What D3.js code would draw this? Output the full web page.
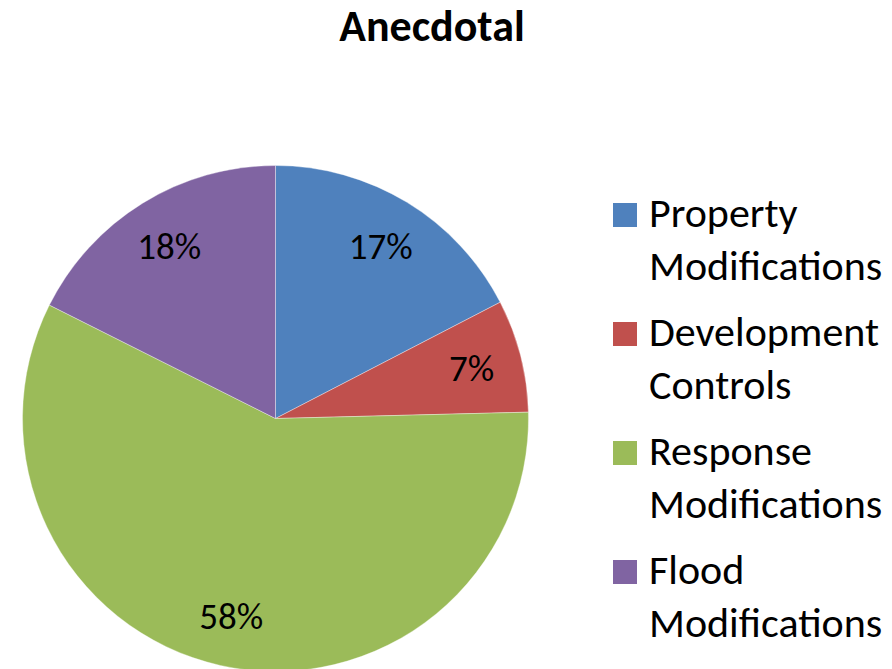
<!DOCTYPE html>
<html>
<head>
<meta charset="utf-8">
<script src="https://cdn.jsdelivr.net/npm/d3@7"></script>
<style>
  html, body { margin: 0; padding: 0; background: #fff; }
  svg { display: block; }
</style>
</head>
<body>
<div id="chart"></div>
<script>
(function () {
  'use strict';

  // Anecdotal share of flood mitigation measures (percent)
  const CATEGORIES = ['Property Modifications', 'Development Controls', 'Response Modifications', 'Flood Modifications'];
  const LEGEND_LINES = [['Property', 'Modifications'], ['Development', 'Controls'], ['Response', 'Modifications'], ['Flood', 'Modifications']];
  const VALUES = [17.4, 7.2, 57.8, 17.6];
  const LABELS = ['17%', '7%', '58%', '18%'];
  const COLORS = ['#4F81BD', '#C0504D', '#9BBB59', '#8064A2'];

  const FONT = 'Carlito, Calibri, Lato, sans-serif';
  const width = 892, height = 669;

  const svg = d3.select('#chart').append('svg')
    .attr('width', width).attr('height', height)
    .attr('viewBox', `0 0 ${width} ${height}`);

  // Title
  svg.append('text')
    .attr('x', 432).attr('y', 41)
    .attr('text-anchor', 'middle')
    .attr('font-family', FONT).attr('font-weight', 700).attr('font-size', 44)
    .attr('fill', '#000')
    .text('Anecdotal');

  // Pie
  const cx = 275.5, cy = 418.5, radius = 253;
  const data = CATEGORIES.map((c, i) => ({ name: c, value: VALUES[i], label: LABELS[i], color: COLORS[i] }));

  const pie = d3.pie().value(d => d.value).sort(null);
  const arc = d3.arc().innerRadius(0).outerRadius(radius);
  const labelArc = d3.arc().innerRadius(radius * 0.8).outerRadius(radius * 0.8);

  const g = svg.append('g').attr('transform', `translate(${cx},${cy})`);
  const arcs = pie(data);

  g.selectAll('path.slice').data(arcs).enter().append('path')
    .attr('class', 'slice')
    .attr('d', arc)
    .attr('fill', d => d.data.color)
    .attr('stroke', '#fff').attr('stroke-width', 0.6).attr('stroke-opacity', 0.6);

  g.selectAll('text.lbl').data(arcs).enter().append('text')
    .attr('class', 'lbl')
    .attr('transform', d => {
      const [x, y] = labelArc.centroid(d);
      return `translate(${x},${y})`;
    })
    .attr('text-anchor', 'middle')
    .attr('dy', '0.35em')
    .attr('font-family', FONT).attr('font-size', 37)
    .attr('fill', '#000')
    .text(d => d.data.label);

  // Legend
  const legendX = 613, legendY0 = 227, entryGap = 119, lineH = 52.5;
  const legend = svg.append('g');
  data.forEach((d, i) => {
    const y = legendY0 + i * entryGap;
    legend.append('rect')
      .attr('x', legendX).attr('y', y - 24)
      .attr('width', 24).attr('height', 24)
      .attr('fill', d.color);
    const t = legend.append('text')
      .attr('x', legendX + 36).attr('y', y)
      .attr('font-family', FONT).attr('font-size', 42)
      .attr('fill', '#000');
    LEGEND_LINES[i].forEach((line, j) => {
      t.append('tspan')
        .attr('x', legendX + 36)
        .attr('y', y + j * lineH)
        .text(line);
    });
  });
})();
</script>
</body>
</html>
